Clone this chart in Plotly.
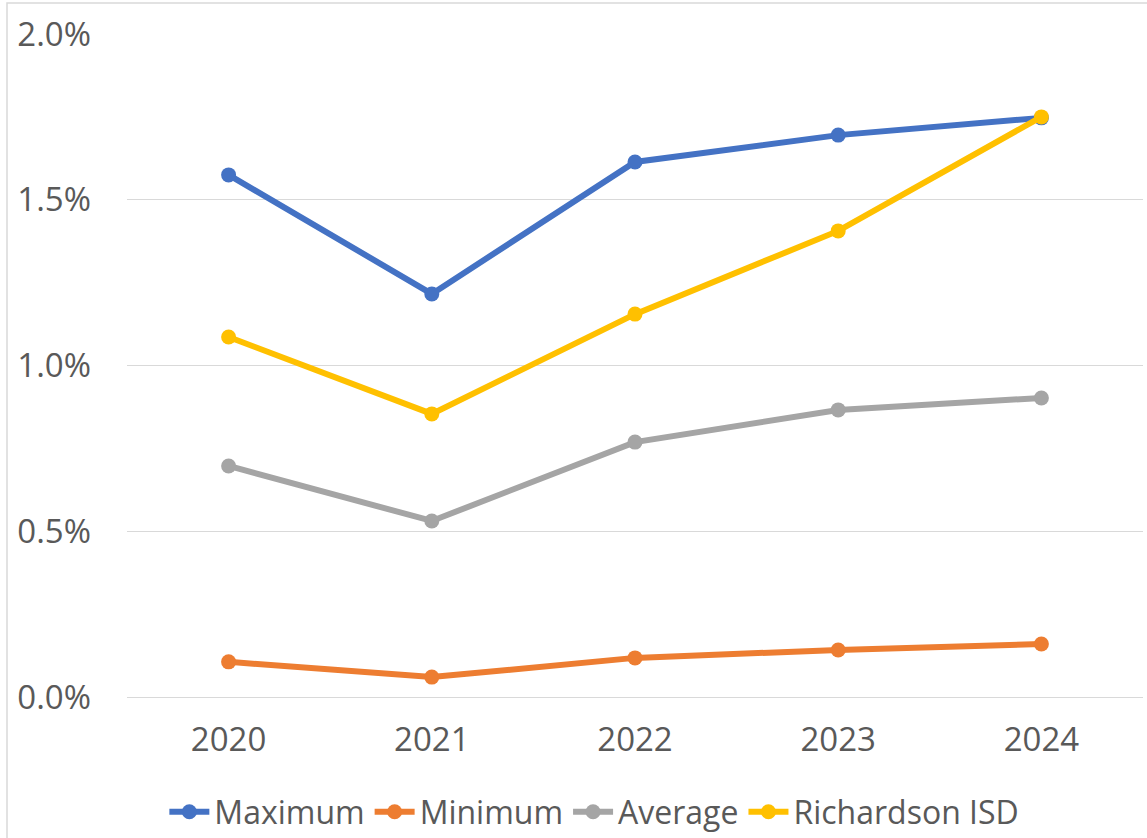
import plotly.graph_objects as go

years = ["2020", "2021", "2022", "2023", "2024"]
maximum = [1.575, 1.216, 1.614, 1.695, 1.747]
minimum = [0.106, 0.060, 0.118, 0.142, 0.160]
average = [0.697, 0.531, 0.769, 0.866, 0.902]
richardson = [1.086, 0.854, 1.155, 1.406, 1.750]
y_ticks = [0.0, 0.5, 1.0, 1.5, 2.0]
y_tick_labels = ["0.0%", "0.5%", "1.0%", "1.5%", "2.0%"]

series = [
    ("Maximum", maximum, "#4472C4"),
    ("Minimum", minimum, "#ED7D31"),
    ("Average", average, "#A5A5A5"),
    ("Richardson ISD", richardson, "#FFC000"),
]

fig = go.Figure()
for name, vals, color in series:
    fig.add_trace(go.Scatter(
        x=years, y=vals, name=name, mode="lines+markers",
        line=dict(color=color, width=6),
        marker=dict(color=color, size=15),
    ))

L, R, T, B = 127, 4, 34, 141
W, H = 1147, 838
pw, ph = W - L - R, H - T - B

fig.update_layout(
    width=W, height=H,
    margin=dict(l=L, r=R, t=T, b=B, autoexpand=False),
    paper_bgcolor="white", plot_bgcolor="white",
    font=dict(family="Open Sans", size=33, color="#595959"),
    showlegend=True,
    legend=dict(orientation="h", x=0.46, xanchor="center", y=(697 - 812) / ph,
                yanchor="middle", font=dict(size=32, color="#595959"),
                itemwidth=40, tracegroupgap=0),
    xaxis=dict(type="category", range=[-0.5, 4.5], showgrid=False,
               showline=False, ticks="", ticklabelstandoff=20, zeroline=False,
               automargin=False),
    yaxis=dict(range=[0, 2.0], tickvals=y_ticks, ticktext=y_tick_labels,
               showgrid=True, gridcolor="#D9D9D9", gridwidth=1,
               zeroline=True, zerolinecolor="#D9D9D9", zerolinewidth=1,
               showline=False, ticks="", ticklabelstandoff=35,
               automargin=False),
    shapes=[dict(type="rect", xref="paper", yref="paper",
                 x0=(7 - L) / pw, x1=(1160 - L) / pw,
                 y0=(697 - 850) / ph, y1=1 + (T - 3) / ph,
                 line=dict(color="#D9D9D9", width=1.5), layer="below")],
)

fig.write_html("out.html", config={"displayModeBar": False},
               post_script="document.body.style.margin='0';document.body.style.overflow='hidden';")
